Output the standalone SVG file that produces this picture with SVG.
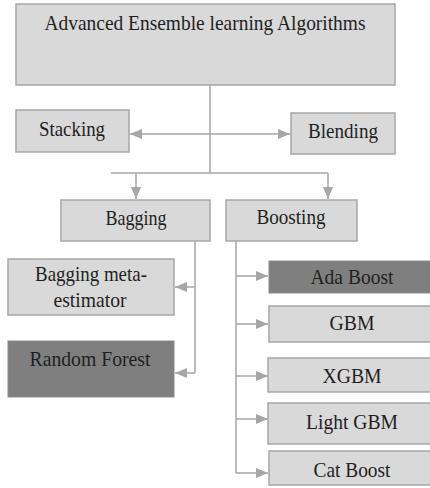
<svg xmlns="http://www.w3.org/2000/svg" width="430" height="488" viewBox="0 0 430 488">
  <defs>
    <marker id="tip" markerUnits="userSpaceOnUse" markerWidth="12" markerHeight="12" viewBox="0 0 12 12" refX="12" refY="6" orient="auto-start-reverse">
      <path d="M0,1 L12,6 L0,11 Z" fill="#a6a6a6"/>
    </marker>
  </defs>

  <!-- connectors: grey elbow lines with filled triangular heads -->
  <g id="connectors" fill="none" stroke="#a6a6a6" stroke-width="1.5">
    <path d="M210,85 V173"/>
    <path d="M130,134 H290" marker-start="url(#tip)" marker-end="url(#tip)"/>
    <path d="M111,173 H328"/>
    <path d="M136,173 V199" marker-end="url(#tip)"/>
    <path d="M328,173 V199" marker-end="url(#tip)"/>
    <path d="M195,241 V373"/>
    <path d="M195,287 H175" marker-end="url(#tip)"/>
    <path d="M195,373 H175" marker-end="url(#tip)"/>
    <path d="M236,241 V473"/>
    <path d="M236,276 H268" marker-end="url(#tip)"/>
    <path d="M236,324 H268" marker-end="url(#tip)"/>
    <path d="M236,376 H268" marker-end="url(#tip)"/>
    <path d="M236,419 H268" marker-end="url(#tip)"/>
    <path d="M236,473 H268" marker-end="url(#tip)"/>
  </g>

  <!-- nodes: light boxes by default, dark ones override the fill -->
  <g id="nodes" font-family="Liberation Serif, DejaVu Serif, serif" font-size="21" text-anchor="middle">
    <g id="root">
      <rect x="16" y="4" width="379" height="81" fill="#d9d9d9" stroke="#a6a6a6" stroke-width="1.5"/>
      <text x="205" y="30" fill="#1f1f1f" textLength="321" lengthAdjust="spacingAndGlyphs">Advanced Ensemble learning Algorithms</text>
    </g>
    <g id="stacking">
      <rect x="16" y="110" width="113" height="42" fill="#d9d9d9" stroke="#a6a6a6" stroke-width="1.5"/>
      <text x="72" y="136" fill="#1f1f1f" textLength="66" lengthAdjust="spacingAndGlyphs">Stacking</text>
    </g>
    <g id="blending">
      <rect x="291" y="113" width="104" height="41" fill="#d9d9d9" stroke="#a6a6a6" stroke-width="1.5"/>
      <text x="343" y="138" fill="#1f1f1f" textLength="70" lengthAdjust="spacingAndGlyphs">Blending</text>
    </g>
    <g id="bagging">
      <rect x="61" y="200" width="149" height="41" fill="#d9d9d9" stroke="#a6a6a6" stroke-width="1.5"/>
      <text x="136" y="225" fill="#1f1f1f" textLength="61" lengthAdjust="spacingAndGlyphs">Bagging</text>
    </g>
    <g id="boosting">
      <rect x="226" y="200" width="131" height="41" fill="#d9d9d9" stroke="#a6a6a6" stroke-width="1.5"/>
      <text x="291" y="224" fill="#1f1f1f" textLength="69" lengthAdjust="spacingAndGlyphs">Boosting</text>
    </g>
    <g id="bagging-meta">
      <rect x="8" y="259" width="166" height="56" fill="#d9d9d9" stroke="#a6a6a6" stroke-width="1.5"/>
      <text x="91" y="281" fill="#1f1f1f" textLength="112" lengthAdjust="spacingAndGlyphs">Bagging meta-</text>
      <text x="90" y="307" fill="#1f1f1f" textLength="73" lengthAdjust="spacingAndGlyphs">estimator</text>
    </g>
    <g id="random-forest">
      <rect x="8" y="341" width="166" height="56" fill="#7f7f7f" stroke="#8c8c8c" stroke-width="1"/>
      <text x="90" y="366" fill="#1f1f1f" textLength="121" lengthAdjust="spacingAndGlyphs">Random Forest</text>
    </g>
    <g id="ada-boost">
      <rect x="269" y="261" width="170" height="32" fill="#7f7f7f" stroke="#8c8c8c" stroke-width="1"/>
      <text x="352" y="284" fill="#1f1f1f" textLength="83" lengthAdjust="spacingAndGlyphs">Ada Boost</text>
    </g>
    <g id="gbm">
      <rect x="269" y="306" width="170" height="36" fill="#d9d9d9" stroke="#a6a6a6" stroke-width="1.5"/>
      <text x="352" y="330" fill="#1f1f1f" textLength="45" lengthAdjust="spacingAndGlyphs">GBM</text>
    </g>
    <g id="xgbm">
      <rect x="268" y="358" width="170" height="34" fill="#d9d9d9" stroke="#a6a6a6" stroke-width="1.5"/>
      <text x="352" y="383" fill="#1f1f1f" textLength="59" lengthAdjust="spacingAndGlyphs">XGBM</text>
    </g>
    <g id="light-gbm">
      <rect x="268" y="403" width="170" height="41" fill="#d9d9d9" stroke="#a6a6a6" stroke-width="1.5"/>
      <text x="352" y="429" fill="#1f1f1f" textLength="92" lengthAdjust="spacingAndGlyphs">Light GBM</text>
    </g>
    <g id="cat-boost">
      <rect x="269" y="451" width="170" height="34" fill="#d9d9d9" stroke="#a6a6a6" stroke-width="1.5"/>
      <text x="352" y="477" fill="#1f1f1f" textLength="77" lengthAdjust="spacingAndGlyphs">Cat Boost</text>
    </g>
  </g>
</svg>
